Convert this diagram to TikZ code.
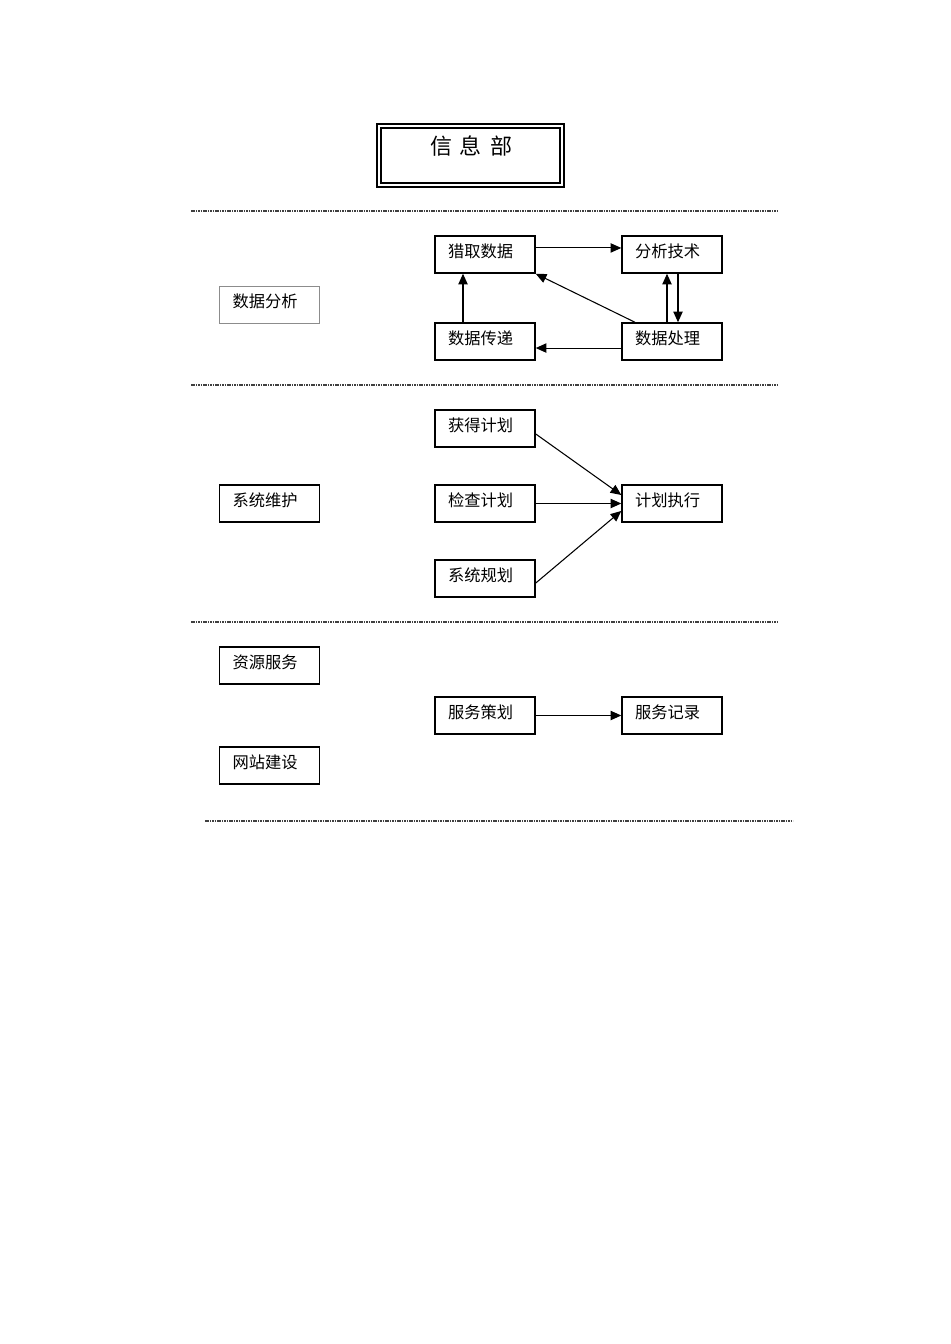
\documentclass[tikz,border=0pt]{standalone}
\usepackage{fontspec}
\newfontfamily\cjk{Noto Sans CJK SC}
\usetikzlibrary{arrows.meta}
\begin{document}
\begin{tikzpicture}[x=0.75pt,y=-0.75pt,
  box/.style={draw=black,line width=1.1pt,rectangle,minimum width=75pt,minimum height=27.75pt,
    inner xsep=9.75pt,inner ysep=0pt,text width=55.5pt,align=left,text height=10.5pt,text depth=6pt,
    font=\cjk\fontsize{12.2}{14}\selectfont},
  graybox/.style={box,draw=black!45,line width=0.7pt},
  conn/.style={line width=0.8pt,-{Triangle[length=8pt,width=7pt]}},
  sep/.style={line width=0.9pt,black!75,dash pattern=on 1.2pt off 0.6pt}
]
\useasboundingbox (0,0) rectangle (950,1344);
% title
\draw[line width=1.5pt] (377,124) rectangle (564,187);
\draw[line width=1.5pt] (381,128) rectangle (560,183);
\node[inner sep=0pt,font=\cjk\fontsize{16.5}{18}\selectfont] (title) at (471,146) {信\hspace{6pt}息\hspace{6pt}部};
% separators
\coordinate (s1a) at (191,211); \coordinate (s1b) at (778,211);
\coordinate (s2a) at (191,385); \coordinate (s2b) at (778,385);
\coordinate (s3a) at (191,622); \coordinate (s3b) at (778,622);
\coordinate (s4a) at (205,821); \coordinate (s4b) at (793,821);
\draw[sep] (s1a) -- (s1b);
\draw[sep] (s2a) -- (s2b);
\draw[sep] (s3a) -- (s3b);
\draw[sep] (s4a) -- (s4b);
% section 1
\node[graybox] (sjfx) at (269.5,305) {数据分析};
\node[box] (lq) at (485,254.5) {猎取数据};
\node[box] (fx) at (672,254.5) {分析技术};
\node[box] (cd) at (485,341.5) {数据传递};
\node[box] (cl) at (672,341.5) {数据处理};
\draw[conn] ([yshift=4.9pt]lq.east) -- ([yshift=4.9pt]fx.west);
\draw[conn] ([xshift=-3.75pt]cl.north) -- ([xshift=-3.75pt]fx.south);
\draw[conn] ([xshift=4.5pt]fx.south) -- ([xshift=4.5pt]cl.north);
\draw[conn] ([xshift=-27.75pt]cl.north) -- (lq.south east);
\draw[conn] ([yshift=-4.9pt]cl.west) -- ([yshift=-4.9pt]cd.east);
\draw[conn] ([xshift=-16.5pt]cd.north) -- ([xshift=-16.5pt]lq.south);
% section 2
\node[box] (xtwh) at (269.5,503.5) {系统维护};
\node[box] (hd) at (485,428.5) {获得计划};
\node[box] (jc) at (485,503.5) {检查计划};
\node[box] (gh) at (485,578.5) {系统规划};
\node[box] (zx) at (672,503.5) {计划执行};
\draw[conn] ([yshift=-4.1pt]hd.east) -- ([yshift=6.4pt]zx.west);
\draw[conn] (jc.east) -- (zx.west);
\draw[conn] ([yshift=-3.4pt]gh.east) -- ([yshift=-5.6pt]zx.west);
% section 3
\node[box] (zyfw) at (269.5,665.5) {资源服务};
\node[box] (wzjs) at (269.5,765.5) {网站建设};
\node[box] (ch) at (485,715.5) {服务策划};
\node[box] (jl) at (672,715.5) {服务记录};
\draw[conn] (ch.east) -- (jl.west);
\end{tikzpicture}
\end{document}
